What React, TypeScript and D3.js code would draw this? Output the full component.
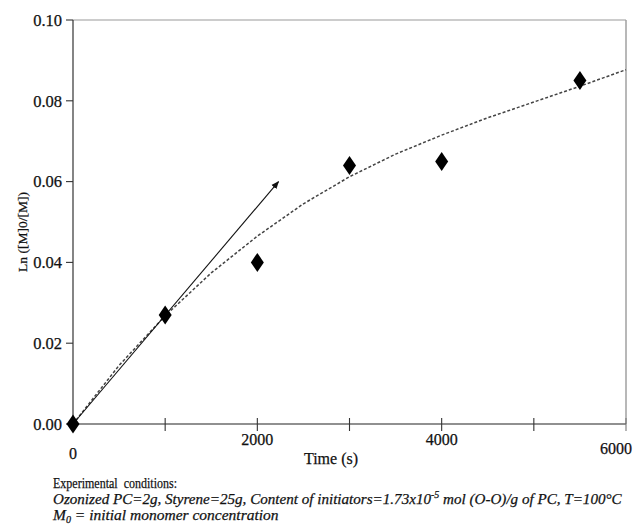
import React from 'react';
import * as d3 from 'd3';

// ---- data ----
const timeS = [0, 1000, 2000, 3000, 4000, 5500];
const lnRatio = [0, 0.027, 0.040, 0.064, 0.065, 0.085];

const fitTime = [0, 500, 1000, 1500, 2000, 2500, 3000, 3500, 4000, 4500, 5000, 5500, 6000];
const fitLn = [0, 0.0145, 0.0268, 0.0374, 0.0465, 0.0545, 0.0612, 0.0668, 0.0715, 0.0758, 0.0797, 0.0836, 0.0877];

const tangentTime = [0, 2230];
const tangentLn = [0, 0.060];

const xTicks = [0, 1000, 2000, 3000, 4000, 5000, 6000];
const xTickLabels = ['0', '', '2000', '', '4000', '', '6000'];
const yTicks = [0, 0.02, 0.04, 0.06, 0.08, 0.10];
const yTickLabels = ['0.00', '0.02', '0.04', '0.06', '0.08', '0.10'];

const xTitle = 'Time (s)';
const yTitle = 'Ln ([M]0/[M])';

// ---- layout ----
const W = 633, H = 526;
const x0 = 73, x1 = 626, yTop = 20, yBot = 424;
const FONT = '"Liberation Serif", "Times New Roman", serif';
// vertical offset of each x tick label's centre (scan irregularity)
const xLabelCy = [453, 0, 439, 0, 439, 0, 448];
const xLabelDx = [0, 0, 0, 0, 0, 0, -10];
const TXT = { fill: '#111', stroke: '#111', strokeWidth: 0.25 };

export default function App() {
  const x = d3.scaleLinear().domain([0, 6000]).range([x0, x1]);
  const y = d3.scaleLinear().domain([0, 0.1]).range([yBot, yTop]);

  const fitLine = d3.line<number>().x((_, i) => x(fitTime[i])).y((d) => y(d));
  const tanLine = d3.line<number>().x((_, i) => x(tangentTime[i])).y((d) => y(d));

  const hw = 6.5, hh = 9.5;
  const diamond = `M0,${-hh}L${hw},0L0,${hh}L${-hw},0Z`;

  return (
    <svg width={W} height={H} style={{ position: 'absolute', left: 0, top: 0, background: '#fff' }} fontFamily={FONT}>
      <defs>
        <marker id="arr" viewBox="0 0 10 10" refX="9" refY="5" markerWidth="8" markerHeight="8" orient="auto" markerUnits="userSpaceOnUse">
          <path d="M0,1L10,5L0,9Z" fill="#111" />
        </marker>
      </defs>
      {/* frame */}
      <line x1={x0} x2={x1} y1={yTop} y2={yTop} stroke="#9a9a9a" strokeWidth={1.2} />
      <line x1={x1} x2={x1} y1={yTop} y2={yBot} stroke="#9a9a9a" strokeWidth={1.4} />
      <line x1={x0} x2={x0} y1={yTop} y2={yBot} stroke="#333" strokeWidth={1.2} />
      <line x1={x0} x2={x1} y1={yBot} y2={yBot} stroke="#222" strokeWidth={1.2} />

      {/* y ticks */}
      {yTicks.map((t, i) => (
        <g key={'y' + i}>
          <line x1={x0 - 7} x2={x0} y1={y(t)} y2={y(t)} stroke="#333" strokeWidth={1.1} />
          <text x={62} y={y(t)} dy="0.35em" textAnchor="end" fontSize={16.5} {...TXT}>{yTickLabels[i]}</text>
        </g>
      ))}

      {/* x ticks */}
      {xTicks.map((t, i) => (
        <g key={'x' + i}>
          <line x1={x(t)} x2={x(t)} y1={yBot - 6} y2={yBot + 7} stroke={i === 6 ? '#777' : '#333'} strokeWidth={1.1} />
          {xTickLabels[i] && (
            <text x={x(t) + xLabelDx[i]} y={xLabelCy[i]} dy="0.35em" textAnchor="middle" fontSize={16} {...TXT}>{xTickLabels[i]}</text>
          )}
        </g>
      ))}

      {/* titles */}
      <text x={331} y={458} dy="0.35em" textAnchor="middle" fontSize={16} {...TXT}>{xTitle}</text>
      <text transform={`translate(22,232) rotate(-90)`} dy="0.35em" textAnchor="middle" fontSize={13.5} {...TXT}>{yTitle}</text>

      {/* fit curve */}
      <path d={fitLine(fitLn) || ''} fill="none" stroke="#444" strokeWidth={1.5} strokeDasharray="3,2" />
      {/* tangent arrow */}
      <path d={tanLine(tangentLn) || ''} fill="none" stroke="#111" strokeWidth={1.1} markerEnd="url(#arr)" />

      {/* data points */}
      {timeS.map((t, i) => (
        <path key={'p' + i} d={diamond} transform={`translate(${x(t)},${y(lnRatio[i])})`} fill="#000" />
      ))}

      {/* notes */}
      <text x={53} y={488} fontSize={15.5} {...TXT} textLength={124} lengthAdjust="spacingAndGlyphs" xmlSpace="preserve">Experimental  conditions:</text>
      <text x={53} y={504} fontSize={15.1} {...TXT} fontStyle="italic">
        Ozonized PC=2g, Styrene=25g, Content of initiators=1.73x10
        <tspan fontSize={10} dy={-6}>-5</tspan>
        <tspan dy={6}> mol (O-O)/g of PC, T=100°C</tspan>
      </text>
      <text x={53} y={520} fontSize={15.5} {...TXT} fontStyle="italic">
        M<tspan fontSize={10} dy={3}>0</tspan><tspan dy={-3}> = initial monomer concentration</tspan>
      </text>
    </svg>
  );
}
